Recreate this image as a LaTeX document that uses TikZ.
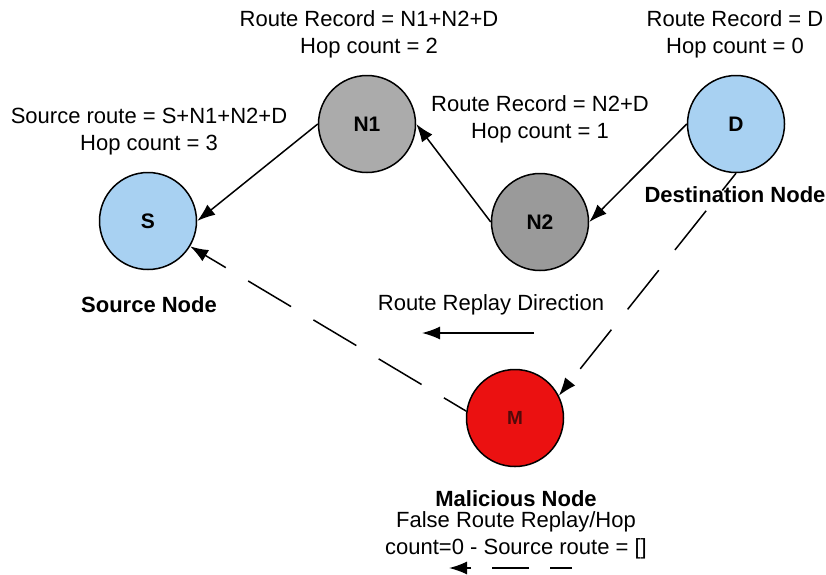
\documentclass[tikz,border=0pt]{standalone}
\usepackage{fontspec}
\setmainfont{Liberation Sans}
\usepackage{tikz}
\usetikzlibrary{arrows.meta}
\definecolor{srcblue}{RGB}{168,209,242}
\definecolor{hopgray}{RGB}{171,171,171}
\definecolor{hopdark}{RGB}{154,154,154}
\definecolor{evilred}{RGB}{235,17,17}
\definecolor{evilink}{RGB}{80,10,10}
\tikzstyle{station} = [draw, circle, line width=1.5pt, minimum size=97pt, inner sep=0pt, font=\bfseries\fontsize{21}{25}\selectfont]
\tikzstyle{infotext} = [align=center, inner sep=0pt, font=\fontsize{22}{27}\selectfont]
\tikzstyle{rolename} = [inner sep=0pt, font=\bfseries\fontsize{22}{27}\selectfont]
\tikzstyle{replay} = [dash pattern=on 50pt off 26pt]

\begin{document}
\begin{tikzpicture}[x=1pt,y=-1pt,>={Latex[length=18pt,width=13pt]},line width=1.5pt]
  \useasboundingbox (0,0) rectangle (826,574);
  \node[station, fill=srcblue] (S) at (148,221) {S};
  \node[station, fill=hopgray] (N1) at (367,124) {N1};
  \node[station, fill=hopdark] (N2) at (540,222) {N2};
  \node[station, fill=srcblue] (D) at (736,124) {D};
  \node[station, fill=evilred, text=evilink, font=\bfseries\fontsize{19}{23}\selectfont] (M) at (515,418) {M};
  \coordinate (replaystart) at (534,333);
  \coordinate (replayend) at (422,333);
  \coordinate (falsestart) at (572,568);
  \coordinate (falseend) at (449,568);
  \draw[->] (N1.west) -- (S.east);
  \draw[->] (N2.west) -- (N1.east);
  \draw[->] (D.west) -- (N2.east);
  \draw[->, replay, dash phase=28pt] (D.south) -- (M.27);
  \draw[->, replay, dash phase=24pt] (M.172) -- (S.-31);
  \draw[->] (replaystart) -- (replayend);
  \draw[->, dash pattern=on 37pt off 21pt, dash phase=15pt] (falsestart) -- (falseend);
  \node[infotext] (srcroute) at (149,132) {Source route = S+N1+N2+D\\Hop count = 3};
  \node[infotext] (n1record) at (369,34) {Route Record = N1+N2+D\\Hop count = 2};
  \node[infotext] (n2record) at (540,119) {Route Record = N2+D\\Hop count = 1};
  \node[infotext] (drecord) at (735,34) {Route Record = D\\Hop count = 0};
  \node[rolename] (srcname) at (149,305) {Source Node};
  \node[rolename] (dstname) at (735,195) {Destination Node};
  \node[rolename] (evilname) at (516,499) {Malicious Node};
  \node[infotext] (replaytext) at (491,305) {Route Replay Direction};
  \node[infotext] (falsetext) at (516,535) {False Route Replay/Hop\\count=0 - Source route = []};
\end{tikzpicture}
\end{document}
